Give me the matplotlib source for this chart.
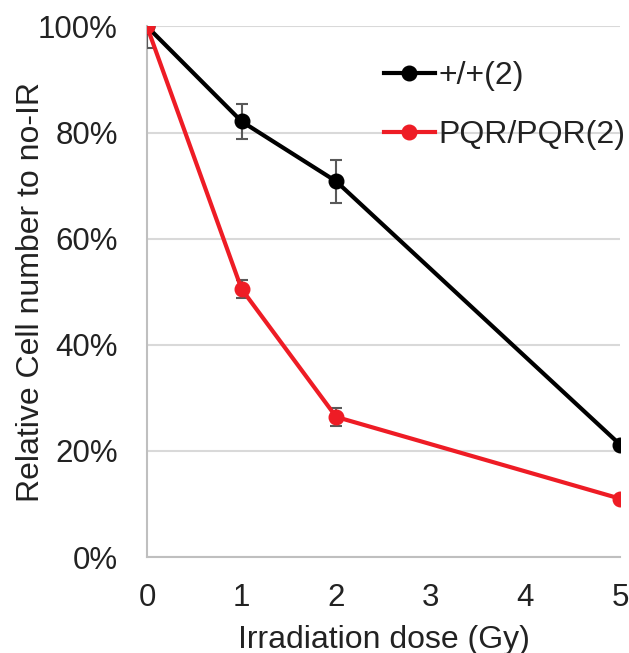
import matplotlib
matplotlib.use("Agg")
import matplotlib.pyplot as plt
from matplotlib.ticker import PercentFormatter
from matplotlib.lines import Line2D

plt.rcParams['font.family'] = ['Liberation Sans', 'DejaVu Sans']

# --- data ---
dose = [0, 1, 2, 5]
wt_vals = [100, 82.1, 70.8, 21.2]
wt_err = [0, 3.3, 4.0, 0]
pqr_vals = [100, 50.5, 26.4, 11.0]
pqr_err = [4.0, 1.7, 1.7, 0]
labels = ["+/+(2)", "PQR/PQR(2)"]
x_ticks = [0, 1, 2, 3, 4, 5]
y_ticks = [0, 20, 40, 60, 80, 100]

fig = plt.figure(figsize=(6.29, 6.53), dpi=100)
ax = fig.add_axes([0.2337, 0.147, 0.7520, 0.8125])

ax.errorbar(dose, wt_vals, yerr=wt_err, color='black', lw=3, marker='o', ms=10.5,
            ecolor='#595959', elinewidth=1.5, capsize=4, capthick=1.5, label=labels[0], zorder=3)
ax.errorbar(dose, pqr_vals, yerr=pqr_err, color='#EE1C25', lw=3, marker='o', ms=10.5,
            ecolor='#595959', elinewidth=1.5, capsize=4, capthick=1.5, label=labels[1], zorder=3)

ax.set_xlim(0, 5)
ax.set_ylim(0, 100)
ax.set_xticks(x_ticks)
ax.set_yticks(y_ticks)
ax.yaxis.set_major_formatter(PercentFormatter(decimals=0))
ax.tick_params(length=0, labelsize=22.5, colors='#222222')
ax.tick_params(axis='x', pad=19)
ax.tick_params(axis='y', pad=21)
ax.grid(axis='y', color='#d9d9d9', lw=1.5)
ax.set_axisbelow(True)
for s in ['top', 'right']:
    ax.spines[s].set_visible(False)
for s in ['left', 'bottom']:
    ax.spines[s].set_color('#bfbfbf')
    ax.spines[s].set_linewidth(1.5)

ax.set_xlabel("Irradiation dose (Gy)", fontsize=23, color='#222222', labelpad=8)
ax.set_ylabel("Relative Cell number to no-IR", fontsize=23, color='#222222', va='center')
ax.yaxis.set_label_coords(-0.245, 0.5)

handles = [Line2D([], [], color='black', lw=3, marker='o', ms=10.5),
           Line2D([], [], color='#EE1C25', lw=3, marker='o', ms=10.5)]
fig.legend(handles, labels, loc='upper left', bbox_to_anchor=(0.59, 0.926), frameon=False,
           fontsize=23, handlelength=1.6, handletextpad=0.1, labelspacing=0.9,
           borderaxespad=0, labelcolor='#222222')

fig.savefig("out.png", dpi=100)
